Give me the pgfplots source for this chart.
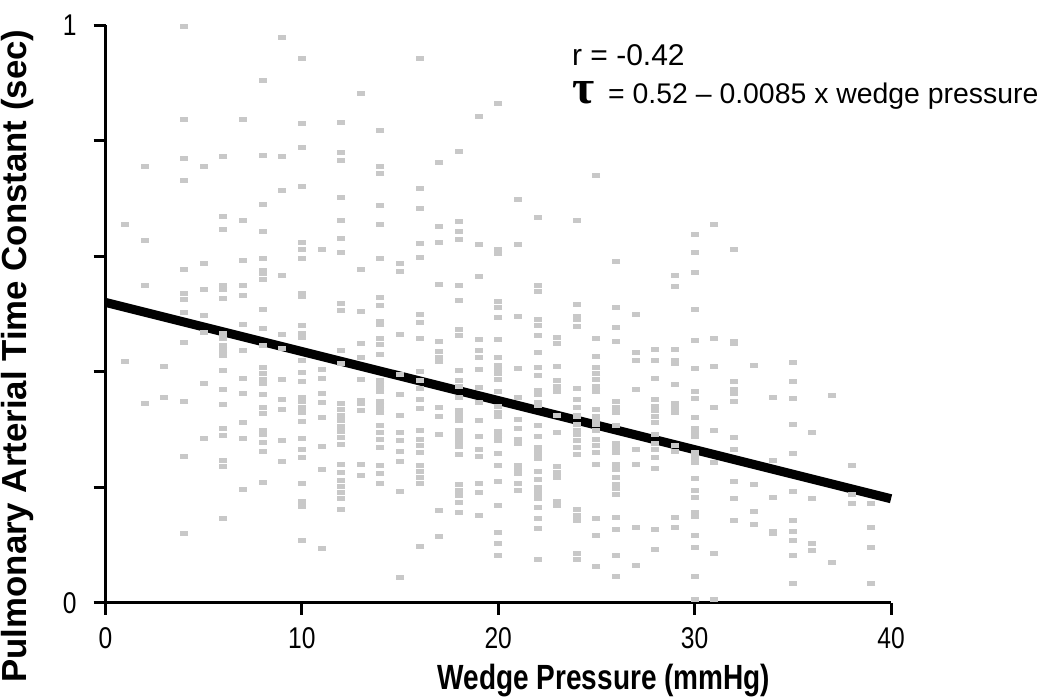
\documentclass[border=0pt]{standalone}
\usepackage{pgfplots}
\pgfplotsset{compat=1.18}
\usepackage{fontspec}
\setmainfont{Liberation Sans}
\newfontfamily\taufont{Liberation Serif}
\definecolor{dotgray}{RGB}{200,200,200}
\newcommand{\cond}[1]{\scalebox{0.82}[1]{#1}}

\begin{document}
\begin{tikzpicture}
\begin{axis}[
  at={(52.75bp,48.15bp)}, anchor=south west,
  width=392.75bp, height=288.75bp, scale only axis,
  xmin=0, xmax=40, ymin=0, ymax=1,
  axis lines=left, axis line style={-, line width=1.5bp},
  every tick/.style={black, line width=1.5bp},
  tick align=outside, major tick length=6bp,
  xtick={0,10,20,30,40},
  xticklabels={\cond{0},\cond{10},\cond{20},\cond{30},\cond{40}},
  ytick={0,0.2,0.4,0.6,0.8,1},
  yticklabels={\cond{0},,,,,\cond{1}},
  ticklabel style={font=\fontsize{15bp}{15bp}\selectfont},
  xticklabel style={yshift=-3bp},
  yticklabel style={xshift=-5bp},
  xlabel={\scalebox{0.8}[1]{Wedge Pressure (mmHg)}},
  ylabel={Pulmonary Arterial Time Constant (sec)},
  every axis x label/.style={at={(axis description cs:0.6346,-0.134)}, anchor=center,
    font=\bfseries\fontsize{17.5bp}{17.5bp}\selectfont},
  every axis y label/.style={at={(axis description cs:-0.1115,0.427)}, anchor=center, rotate=90,
    font=\bfseries\fontsize{17.4bp}{17.4bp}\selectfont},
  clip=false,
]
% regression line, points are drawn on top of it
\addplot[black, line width=4.5bp] coordinates {(0,0.52) (40,0.18)};

\addplot[only marks, mark=-, mark size=2bp, mark options={dotgray, line width=2.5bp}] coordinates {
(1,0.655) (1,0.417)
(2,0.756) (2,0.627) (2,0.550) (2,0.345)
(3,0.409) (3,0.356)
(4,0.997) (4,0.836) (4,0.770) (4,0.731) (4,0.577) (4,0.535) (4,0.525) (4,0.503) (4,0.450) (4,0.348) (4,0.254) (4,0.120)
(5,0.756) (5,0.588) (5,0.543) (5,0.497) (5,0.468) (5,0.380) (5,0.284)
(6,0.772) (6,0.669) (6,0.647) (6,0.550) (6,0.542) (6,0.526) (6,0.466) (6,0.458) (6,0.445) (6,0.437) (6,0.428) (6,0.402) (6,0.369) (6,0.343) (6,0.301) (6,0.289) (6,0.246) (6,0.235) (6,0.146)
(7,0.836) (7,0.662) (7,0.593) (7,0.550) (7,0.532) (7,0.482) (7,0.437) (7,0.389) (7,0.363) (7,0.312) (7,0.284) (7,0.196)
(8,0.904) (8,0.775) (8,0.689) (8,0.642) (8,0.596) (8,0.575) (8,0.570) (8,0.560) (8,0.508) (8,0.475) (8,0.445) (8,0.407) (8,0.397) (8,0.387) (8,0.379) (8,0.361) (8,0.338) (8,0.328) (8,0.299) (8,0.292) (8,0.278) (8,0.262) (8,0.208)
(9,0.978) (9,0.772) (9,0.714) (9,0.566) (9,0.465) (9,0.440) (9,0.386) (9,0.352) (9,0.334) (9,0.281) (9,0.245)
(10,0.943) (10,0.829) (10,0.788) (10,0.721) (10,0.623) (10,0.611) (10,0.596) (10,0.535) (10,0.530) (10,0.480) (10,0.466) (10,0.460) (10,0.419) (10,0.399) (10,0.383) (10,0.356) (10,0.348) (10,0.338) (10,0.329) (10,0.313) (10,0.284) (10,0.266) (10,0.251) (10,0.207) (10,0.176) (10,0.166) (10,0.108)
(11,0.611) (11,0.404) (11,0.388) (11,0.363) (11,0.346) (11,0.320) (11,0.271) (11,0.231) (11,0.094)
(12,0.832) (12,0.780) (12,0.765) (12,0.701) (12,0.662) (12,0.631) (12,0.606) (12,0.518) (12,0.506) (12,0.437) (12,0.414) (12,0.345) (12,0.335) (12,0.325) (12,0.315) (12,0.305) (12,0.296) (12,0.286) (12,0.274) (12,0.239) (12,0.226) (12,0.212) (12,0.201) (12,0.191) (12,0.181) (12,0.161)
(13,0.882) (13,0.577) (13,0.505) (13,0.448) (13,0.424) (13,0.386) (13,0.350) (13,0.345) (13,0.332) (13,0.240) (13,0.220)
(14,0.817) (14,0.755) (14,0.743) (14,0.688) (14,0.655) (14,0.596) (14,0.528) (14,0.514) (14,0.487) (14,0.482) (14,0.458) (14,0.447) (14,0.430) (14,0.384) (14,0.378) (14,0.371) (14,0.365) (14,0.348) (14,0.342) (14,0.335) (14,0.329) (14,0.307) (14,0.294) (14,0.283) (14,0.268) (14,0.237) (14,0.223) (14,0.207)
(15,0.587) (15,0.574) (15,0.465) (15,0.396) (15,0.361) (15,0.324) (15,0.294) (15,0.281) (15,0.261) (15,0.244) (15,0.192) (15,0.044)
(16,0.943) (16,0.718) (16,0.683) (16,0.622) (16,0.598) (16,0.499) (16,0.486) (16,0.457) (16,0.401) (16,0.384) (16,0.371) (16,0.352) (16,0.337) (16,0.299) (16,0.283) (16,0.273) (16,0.260) (16,0.237) (16,0.227) (16,0.217) (16,0.207) (16,0.097)
(17,0.762) (17,0.652) (17,0.624) (17,0.551) (17,0.453) (17,0.435) (17,0.425) (17,0.417) (17,0.338) (17,0.323) (17,0.292) (17,0.159) (17,0.114)
(18,0.781) (18,0.660) (18,0.643) (18,0.629) (18,0.550) (18,0.524) (18,0.473) (18,0.462) (18,0.402) (18,0.384) (18,0.374) (18,0.355) (18,0.333) (18,0.325) (18,0.315) (18,0.299) (18,0.289) (18,0.283) (18,0.276) (18,0.270) (18,0.256) (18,0.205) (18,0.195) (18,0.185) (18,0.174) (18,0.156)
(19,0.842) (19,0.620) (19,0.564) (19,0.455) (19,0.436) (19,0.424) (19,0.404) (19,0.373) (19,0.346) (19,0.315) (19,0.288) (19,0.266) (19,0.254) (19,0.207) (19,0.191) (19,0.151)
(20,0.864) (20,0.612) (20,0.605) (20,0.522) (20,0.512) (20,0.494) (20,0.455) (20,0.424) (20,0.410) (20,0.404) (20,0.397) (20,0.386) (20,0.366) (20,0.340) (20,0.330) (20,0.323) (20,0.297) (20,0.289) (20,0.281) (20,0.259) (20,0.238) (20,0.210) (20,0.168) (20,0.121) (20,0.102) (20,0.081)
(21,0.698) (21,0.620) (21,0.496) (21,0.406) (21,0.355) (21,0.317) (21,0.302) (21,0.283) (21,0.276) (21,0.237) (21,0.230) (21,0.223) (21,0.207) (21,0.195)
(22,0.667) (22,0.550) (22,0.539) (22,0.491) (22,0.480) (22,0.463) (22,0.434) (22,0.407) (22,0.394) (22,0.368) (22,0.361) (22,0.346) (22,0.342) (22,0.307) (22,0.287) (22,0.269) (22,0.263) (22,0.256) (22,0.250) (22,0.227) (22,0.213) (22,0.200) (22,0.194) (22,0.187) (22,0.181) (22,0.164) (22,0.146) (22,0.128) (22,0.074)
(23,0.459) (23,0.448) (23,0.409) (23,0.384) (23,0.374) (23,0.365) (23,0.324) (23,0.294) (23,0.235) (23,0.225) (23,0.216) (23,0.175) (23,0.168)
(24,0.662) (24,0.516) (24,0.496) (24,0.491) (24,0.478) (24,0.371) (24,0.352) (24,0.338) (24,0.325) (24,0.322) (24,0.309) (24,0.299) (24,0.291) (24,0.281) (24,0.269) (24,0.256) (24,0.161) (24,0.151) (24,0.143) (24,0.085) (24,0.074)
(25,0.739) (25,0.458) (25,0.427) (25,0.407) (25,0.397) (25,0.386) (25,0.374) (25,0.365) (25,0.335) (25,0.322) (25,0.315) (25,0.309) (25,0.299) (25,0.283) (25,0.273) (25,0.260) (25,0.240) (25,0.145) (25,0.116) (25,0.062)
(26,0.591) (26,0.512) (26,0.476) (26,0.453) (26,0.348) (26,0.338) (26,0.329) (26,0.306) (26,0.276) (26,0.269) (26,0.260) (26,0.240) (26,0.230) (26,0.217) (26,0.204) (26,0.197) (26,0.187) (26,0.148) (26,0.127) (26,0.081) (26,0.045)
(27,0.499) (27,0.434) (27,0.419) (27,0.369) (27,0.266) (27,0.239) (27,0.130) (27,0.064)
(28,0.438) (28,0.419) (28,0.389) (28,0.352) (28,0.340) (28,0.332) (28,0.322) (28,0.312) (28,0.292) (28,0.276) (28,0.266) (28,0.252) (28,0.233) (28,0.127) (28,0.092)
(29,0.567) (29,0.547) (29,0.439) (29,0.420) (29,0.414) (29,0.378) (29,0.345) (29,0.338) (29,0.330) (29,0.273) (29,0.261) (29,0.148) (29,0.131)
(30,0.637) (30,0.606) (30,0.572) (30,0.508) (30,0.454) (30,0.406) (30,0.365) (30,0.353) (30,0.321) (30,0.302) (30,0.294) (30,0.287) (30,0.260) (30,0.251) (30,0.242) (30,0.215) (30,0.194) (30,0.183) (30,0.157) (30,0.149) (30,0.116) (30,0.096) (30,0.045) (30,0.006)
(31,0.655) (31,0.458) (31,0.409) (31,0.338) (31,0.299) (31,0.243) (31,0.085) (31,0.006)
(32,0.611) (32,0.452) (32,0.448) (32,0.383) (32,0.370) (32,0.363) (32,0.348) (32,0.286) (32,0.266) (32,0.210) (32,0.180) (32,0.143)
(33,0.411) (33,0.205) (33,0.158) (33,0.136)
(34,0.356) (34,0.247) (34,0.182) (34,0.124) (34,0.120)
(35,0.416) (35,0.383) (35,0.354) (35,0.308) (35,0.259) (35,0.193) (35,0.143) (35,0.124) (35,0.107) (35,0.082) (35,0.033)
(36,0.295) (36,0.180) (36,0.102) (36,0.091)
(37,0.358) (37,0.070)
(38,0.238) (38,0.188) (38,0.171)
(39,0.172) (39,0.131) (39,0.096) (39,0.034)
};

\node[anchor=base west, inner sep=0, font=\fontsize{15bp}{15bp}\selectfont]
  at (rel axis cs:0.5935,0.931) {r = -0.42};
\node[anchor=base west, inner sep=0, font=\fontsize{14.2bp}{14.2bp}\selectfont]
  at (rel axis cs:0.5935,0.8636) {\smash{\taufont\bfseries\fontsize{24bp}{24bp}\selectfont τ}\hspace{7bp}= 0.52 – 0.0085 x wedge pressure};
\end{axis}
\pgfresetboundingbox
\useasboundingbox (0,0) rectangle (525bp,349.5bp);
\end{tikzpicture}
\end{document}
